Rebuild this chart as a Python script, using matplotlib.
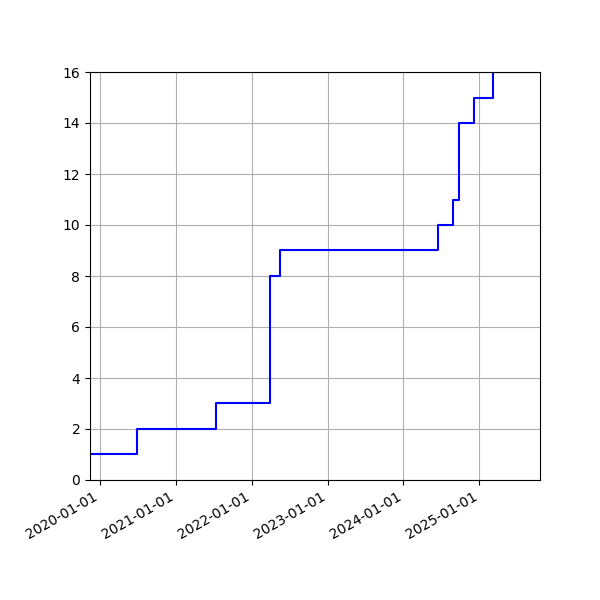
import matplotlib
matplotlib.use("Agg")
import matplotlib.pyplot as plt
import matplotlib.dates as mdates
import pandas as pd

dates = ["2019-11-14", "2020-06-27", "2021-07-12", "2022-03-28", "2022-05-15",
         "2024-06-17", "2024-08-28", "2024-09-26", "2024-12-08", "2025-03-08", "2025-10-20"]
counts = [1, 2, 3, 8, 9, 10, 11, 14, 15, 16, 16]

d = pd.to_datetime(dates)
fig, ax = plt.subplots(figsize=(6, 6), dpi=100)
ax.plot(d, counts, drawstyle="steps-post", color="blue")
ax.set_ylim(0, 16)
ax.set_xlim(pd.Timestamp("2019-11-14"), pd.Timestamp("2025-10-20"))
ax.xaxis.set_major_locator(mdates.YearLocator())
ax.xaxis.set_major_formatter(mdates.DateFormatter("%Y-%m-%d"))
ax.grid(True)
fig.autofmt_xdate()
fig.subplots_adjust(left=0.15, right=0.9, top=0.88, bottom=0.2)
fig.savefig("out.png")
